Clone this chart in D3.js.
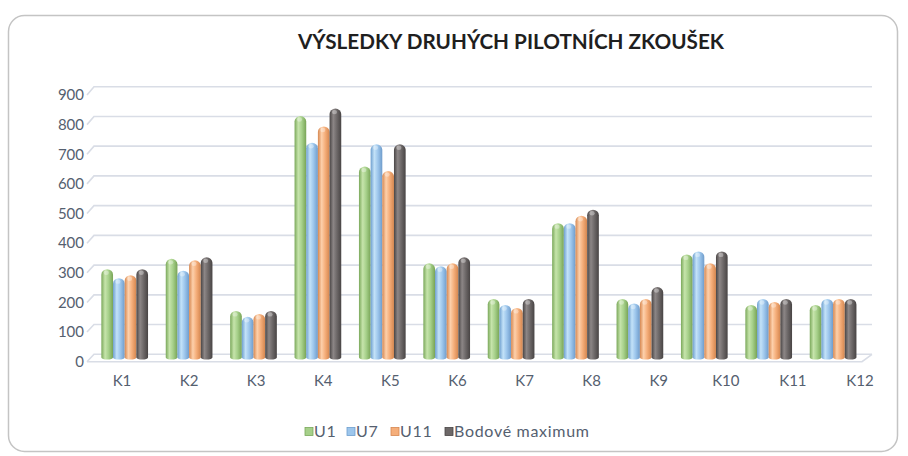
<!DOCTYPE html>
<html>
<head>
<meta charset="utf-8">
<script src="https://cdn.jsdelivr.net/npm/d3@7/dist/d3.min.js"></script>
<style>
  html, body { margin: 0; padding: 0; background: #ffffff; }
  svg { display: block; }
</style>
</head>
<body>
<script>
// Pilot test results per task (K1–K12) for three groups and the maximum score
const categories = ["K1", "K2", "K3", "K4", "K5", "K6", "K7", "K8", "K9", "K10", "K11", "K12"];
const seriesNames = ["U1", "U7", "U11", "Bodové maximum"];
const u1 = [300, 335, 160, 815, 645, 320, 200, 455, 200, 350, 180, 180];
const u7 = [270, 295, 140, 725, 720, 310, 180, 455, 185, 360, 200, 200];
const u11 = [280, 330, 150, 780, 630, 320, 170, 480, 200, 320, 190, 200];
const maxPoints = [300, 340, 160, 840, 720, 340, 200, 500, 240, 360, 200, 200];
const yTicks = [0, 100, 200, 300, 400, 500, 600, 700, 800, 900];
const title = "VÝSLEDKY DRUHÝCH PILOTNÍCH ZKOUŠEK";

const seriesValues = [u1, u7, u11, maxPoints];
// edge, highlight, mid, edge colours for the cylinder shading
const palettes = [
  ["#7aa85a", "#c6e4ab", "#a6d08a", "#78a456"],
  ["#6e9fcf", "#c3e2f8", "#9dc6ec", "#6f9ccb"],
  ["#d68750", "#fdd0ab", "#f5ae7a", "#d4864f"],
  ["#494545", "#8c8686", "#6d6868", "#484444"]
];

const W = 908, H = 456;
const font = "Lato, 'Open Sans', sans-serif";
const textColor = "#55606f";

const svg = d3.select("body").append("svg").attr("width", W).attr("height", H);

// outer chart frame
svg.append("rect")
  .attr("x", 8.5).attr("y", 15.5).attr("width", 889).attr("height", 436)
  .attr("rx", 16).attr("ry", 16)
  .attr("fill", "#ffffff").attr("stroke", "#c4c4c4").attr("stroke-width", 1.5);

// scales: front edge (tick labels), back wall (gridlines), bar tops
const yFront = d3.scaleLinear().domain([0, 900]).range([361.7, 95]);
const yBack = d3.scaleLinear().domain([0, 900]).range([354.3, 86.7]);
const yBar = d3.scaleLinear().domain([0, 900]).range([358.5, 90.75]);
const barBase = 359.5;

const x = d3.scaleBand().domain(categories).range([92.5, 865.3])
  .paddingInner(0.275).paddingOuter(0.1375);
const xSub = d3.scaleBand().domain(d3.range(seriesNames.length)).range([0, x.bandwidth()]);
const xLabel = d3.scalePoint().domain(categories).range([122, 860]);

// gradients
const defs = svg.append("defs");
palettes.forEach((p, i) => {
  const g = defs.append("linearGradient").attr("id", "cyl" + i)
    .attr("x1", "0%").attr("x2", "100%").attr("y1", "0%").attr("y2", "0%");
  g.append("stop").attr("offset", "0%").attr("stop-color", p[0]);
  g.append("stop").attr("offset", "32%").attr("stop-color", p[1]);
  g.append("stop").attr("offset", "62%").attr("stop-color", p[2]);
  g.append("stop").attr("offset", "100%").attr("stop-color", p[3]);
});

// gridlines (back wall with the short left wall segment)
const gridX0 = 87, gridX1 = 94, gridX2 = 872;
const grid = svg.append("g").attr("fill", "none").attr("stroke", "#d9dde6").attr("stroke-width", 1.6);
yTicks.forEach(v => {
  grid.append("path")
    .attr("d", `M${gridX0},${yFront(v)} L${gridX1},${yBack(v)} L${gridX2},${yBack(v)}`);
});
// floor front edge
grid.append("path")
  .attr("d", `M${gridX0},${yFront(0)} L862,${yFront(0)} L${gridX2},${yBack(0)}`);

// y tick labels
svg.append("g").selectAll("text").data(yTicks).join("text")
  .attr("x", 84).attr("y", d => yFront(d))
  .attr("dy", "0.35em").attr("text-anchor", "end")
  .attr("font-family", font).attr("font-size", 15).attr("fill", textColor)
  .text(d => d);

// x category labels
svg.append("g").selectAll("text").data(categories).join("text")
  .attr("x", d => xLabel(d)).attr("y", 381)
  .attr("dy", "0.35em").attr("text-anchor", "middle")
  .attr("font-family", font).attr("font-size", 15).attr("fill", textColor)
  .text(d => d);

// cylinders
function cylinder(x0, w, yTop) {
  const r = w / 2, ry = Math.min(5.5, (barBase - yTop) / 2), rb = 2;
  return `M${x0},${barBase - rb} L${x0},${yTop + ry} A${r},${ry} 0 0 1 ${x0 + w},${yTop + ry}` +
         ` L${x0 + w},${barBase - rb} A${r},${rb} 0 0 1 ${x0},${barBase - rb} Z`;
}

const groups = svg.append("g").selectAll("g").data(categories).join("g")
  .attr("transform", d => `translate(${x(d)},0)`);

seriesValues.forEach((vals, si) => {
  groups.append("path")
    .attr("d", (d, ci) => cylinder(xSub(si), xSub.bandwidth(), yBar(vals[ci])))
    .attr("fill", `url(#cyl${si})`);
  // soft highlight on the rounded top
  groups.append("ellipse")
    .attr("cx", (d, ci) => xSub(si) + xSub.bandwidth() * 0.42)
    .attr("cy", (d, ci) => yBar(vals[ci]) + 3.5)
    .attr("rx", xSub.bandwidth() * 0.22).attr("ry", 2.2)
    .attr("fill", "#ffffff").attr("opacity", 0.35);
});

// title
svg.append("text")
  .attr("x", 511).attr("y", 42).attr("dy", "0.35em")
  .attr("text-anchor", "middle")
  .attr("font-family", font).attr("font-weight", "bold")
  .attr("font-size", 21).attr("fill", "#1f1f1f")
  .attr("textLength", 426).attr("lengthAdjust", "spacingAndGlyphs")
  .text(title);

// legend
const legendItems = [
  { name: seriesNames[0], x: 305 },
  { name: seriesNames[1], x: 347 },
  { name: seriesNames[2], x: 391 },
  { name: seriesNames[3], x: 445 }
];
const legend = svg.append("g");
legendItems.forEach((it, i) => {
  legend.append("rect")
    .attr("x", it.x).attr("y", 427.5).attr("width", 8).attr("height", 8)
    .attr("fill", palettes[i][2]).attr("stroke", palettes[i][0]).attr("stroke-width", 0.8);
  legend.append("text")
    .attr("x", it.x + 9).attr("y", 431.5).attr("dy", "0.35em")
    .attr("font-family", font).attr("font-size", 16).attr("letter-spacing", 0.7)
    .attr("fill", textColor)
    .text(it.name);
});
</script>
</body>
</html>
